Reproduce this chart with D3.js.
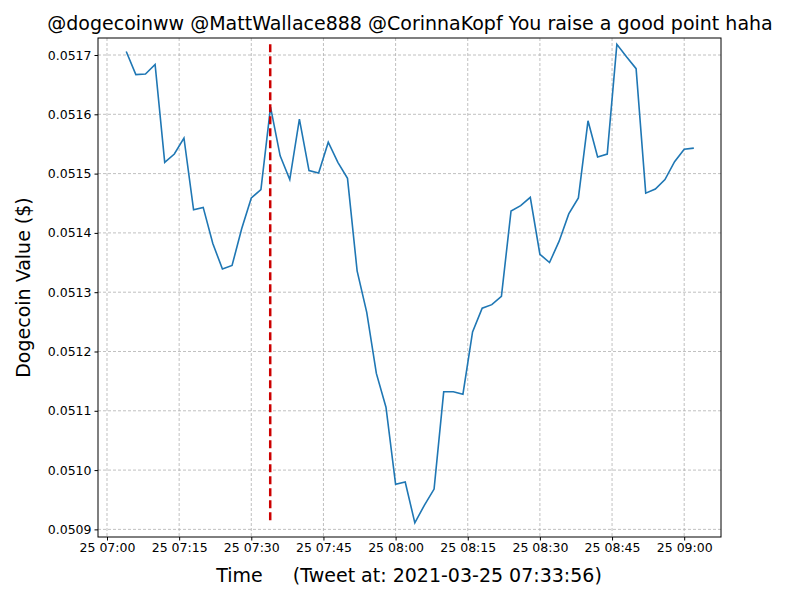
<!DOCTYPE html>
<html><head><meta charset="utf-8">
<script src="https://cdn.jsdelivr.net/npm/d3@7"></script>
<style>body{margin:0;background:#fff;font-family:"DejaVu Sans",sans-serif}</style>
</head><body><svg id="c" width="800" height="600"></svg>
<script>
// minutes after 07:00 on 2021-03-25
const minutes = d3.range(4, 123, 2);
const values = [0.051706,0.051667,0.051668,0.051684,0.051519,0.051533,0.051560,0.051439,0.051443,0.051382,
  0.051339,0.051345,0.051407,0.051459,0.051473,0.051612,0.051530,0.051490,0.051592,0.051505,
  0.051501,0.051553,0.051519,0.051492,0.051336,0.051266,0.051163,0.051106,0.050976,0.050980,
  0.050911,0.050941,0.050968,0.051132,0.051132,0.051128,0.051233,0.051273,0.051279,0.051293,
  0.051437,0.051446,0.051460,0.051364,0.051350,0.051386,0.051432,0.051459,0.051589,0.051528,
  0.051533,0.051718,0.051697,0.051677,0.051467,0.051474,0.051490,0.051520,0.051541,0.051543];
const xTicks = [0, 15, 30, 45, 60, 75, 90, 105, 120];
const yTicks = [0.0509, 0.0510, 0.0511, 0.0512, 0.0513, 0.0514, 0.0515, 0.0516, 0.0517];
const tweetTime = new Date(2021, 2, 25, 7, 33, 56);

const base = new Date(2021, 2, 25, 7, 0, 0);
const t = m => new Date(+base + m * 60000);
const data = minutes.map((m, i) => ({date: t(m), v: values[i]}));

const svg = d3.select("#c");
const L = 98, R = 721, T = 38, B = 537;
const x = d3.scaleTime().domain([t(-1.87), t(127.65)]).range([L, R]);
const y = d3.scaleLinear().domain([0.05088716, 0.05172867]).range([B, T]);

const grid = svg.append("g").attr("stroke", "#b0b0b0").attr("stroke-dasharray", "3,2").attr("stroke-width", 0.8);
xTicks.forEach(m => grid.append("line").attr("x1", x(t(m))).attr("x2", x(t(m))).attr("y1", T).attr("y2", B));
yTicks.forEach(v => grid.append("line").attr("x1", L).attr("x2", R).attr("y1", y(v)).attr("y2", y(v)));

const fmt = d3.timeFormat("%d %H:%M");
svg.append("g").attr("transform", `translate(0,${B})`)
  .call(d3.axisBottom(x).tickValues(xTicks.map(t)).tickFormat(fmt).tickSizeOuter(0).tickSize(3.5))
  .call(g => g.selectAll("text").attr("font-size", 12.5).attr("fill", "#000").attr("font-family", "DejaVu Sans"))
  .call(g => g.select(".domain").remove());
svg.append("g").attr("transform", `translate(${L},0)`)
  .call(d3.axisLeft(y).tickValues(yTicks).tickFormat(d3.format(".4f")).tickSizeOuter(0).tickSize(3.5))
  .call(g => g.selectAll("text").attr("font-size", 12.5).attr("fill", "#000").attr("font-family", "DejaVu Sans"))
  .call(g => g.select(".domain").remove());

svg.append("path").datum(data).attr("fill", "none").attr("stroke", "#1f77b4").attr("stroke-width", 1.6)
  .attr("d", d3.line().x(d => x(d.date)).y(d => y(d.v)));

svg.append("line").attr("x1", x(tweetTime)).attr("x2", x(tweetTime))
  .attr("y1", y(d3.max(values))).attr("y2", y(d3.min(values)))
  .attr("stroke", "#cc0000").attr("stroke-width", 2.5).attr("stroke-dasharray", "8,4");

svg.append("rect").attr("x", L).attr("y", T).attr("width", R - L).attr("height", B - T)
  .attr("fill", "none").attr("stroke", "#000").attr("stroke-width", 1);

svg.append("text").attr("x", 410).attr("y", 30).attr("text-anchor", "middle").attr("font-size", 19)
  .text("@dogecoinww @MattWallace888 @CorinnaKopf You raise a good point haha");
svg.append("text").attr("x", 409).attr("y", 582).attr("text-anchor", "middle").attr("font-size", 19)
  .attr("xml:space", "preserve").text("Time     (Tweet at: 2021-03-25 07:33:56)");
svg.append("text").attr("transform", `translate(30,${(T + B) / 2}) rotate(-90)`).attr("text-anchor", "middle")
  .attr("font-size", 19).text("Dogecoin Value ($)");
</script></body></html>
